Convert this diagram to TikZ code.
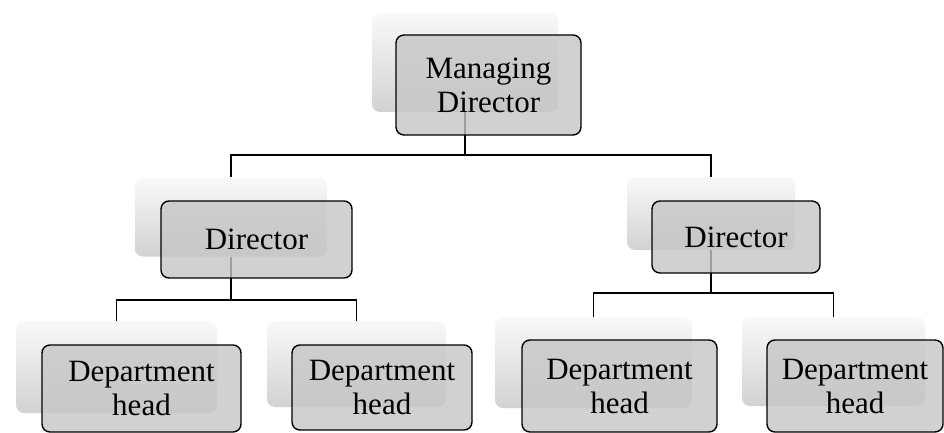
\documentclass[tikz,border=0pt]{standalone}
\usepackage{fontspec}
\setmainfont{Liberation Serif}
\usetikzlibrary{calc}

\begin{document}
\begin{tikzpicture}[x=1pt, y=-1pt]
    % Define colours
    \definecolor{borderColour}{HTML}{000000}
    \definecolor{fillColour}{HTML}{C6C6C6}
    \definecolor{shadeTop}{HTML}{F9F9F9}
    \definecolor{shadeMid}{HTML}{F0F0F0}
    \definecolor{shadeBottom}{HTML}{D2D2D2}

    % Define styles
    \tikzset{
        backbox/.style={rectangle, rounded corners=8pt, inner sep=0pt,
            top color=shadeTop, middle color=shadeMid, bottom color=shadeBottom},
        frontbox/.style={rectangle, rounded corners=8pt, inner sep=0pt,
            draw=borderColour, line width=1.4pt, fill=fillColour, fill opacity=0.8,
            text opacity=1, align=center,
            font=\fontsize{31}{34}\selectfont},
        link/.style={draw=borderColour, line width=1.8pt}
    }

    % Fix the page size
    \useasboundingbox (0,0) rectangle (944,433);

    % Draw the back boxes
    \node[backbox, minimum width=186pt, minimum height=99pt] (mdB) at (465,62.5) {};
    \node[backbox, minimum width=192pt, minimum height=79pt] (dirLB) at (231,217) {};
    \node[backbox, minimum width=168pt, minimum height=73pt] (dirRB) at (711,213.5) {};
    \node[backbox, minimum width=201pt, minimum height=92pt] (depAB) at (116.5,367) {};
    \node[backbox, minimum width=179pt, minimum height=86pt] (depBB) at (356.5,364) {};
    \node[backbox, minimum width=197pt, minimum height=91pt] (depCB) at (593.5,362.5) {};
    \node[backbox, minimum width=183pt, minimum height=89pt] (depDB) at (833.5,361.5) {};

    % Draw the connectors
    \draw[link] (mdB.south) -- ++(0,43) coordinate (mdJ);
    \draw[link] (mdJ) -| (dirLB.north);
    \draw[link] (mdJ) -| (dirRB.north);
    \draw[link] (dirLB.south) -- ++(0,43) coordinate (dirLJ);
    \draw[link] (dirLJ) -| (depAB.north);
    \draw[link] (dirLJ) -| (depBB.north);
    \draw[link] (dirRB.south) -- ++(0,43) coordinate (dirRJ);
    \draw[link] (dirRJ) -| (depCB.north);
    \draw[link] (dirRJ) -| (depDB.north);

    % Draw the front boxes
    \node[frontbox, minimum width=185pt, minimum height=100pt] (md) at (488.5,85) {Managing\\Director};
    \node[frontbox, minimum width=191pt, minimum height=77pt] (dirL) at (256.5,239.5) {Director};
    \node[frontbox, minimum width=168pt, minimum height=72pt] (dirR) at (736,237) {Director};
    \node[frontbox, minimum width=199pt, minimum height=87pt] (depA) at (141.5,388.5) {Department\\head};
    \node[frontbox, minimum width=180pt, minimum height=85pt] (depB) at (382,387.5) {Department\\head};
    \node[frontbox, minimum width=195pt, minimum height=92pt] (depC) at (619.5,386) {Department\\head};
    \node[frontbox, minimum width=176pt, minimum height=92pt] (depD) at (855,386) {Department\\head};

\end{tikzpicture}
\end{document}
